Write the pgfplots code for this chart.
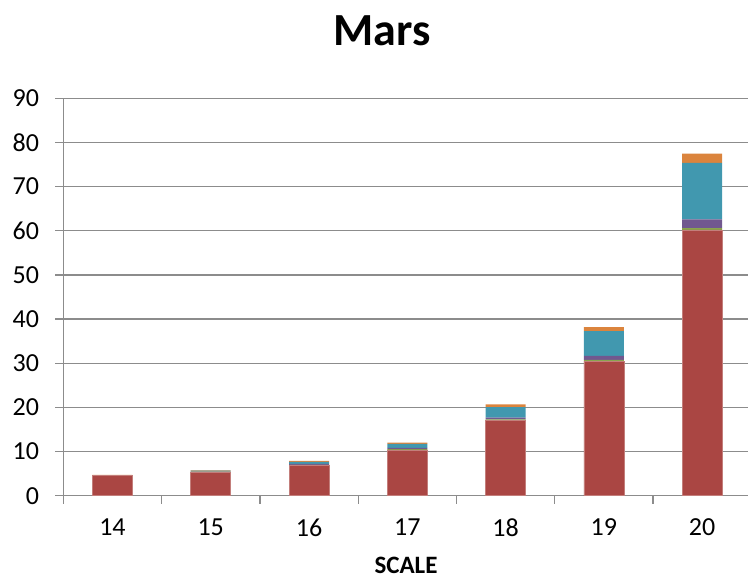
\documentclass[border=0pt]{standalone}
\usepackage{fontspec}
\setmainfont{Carlito}
\usepackage{pgfplots}
\pgfplotsset{compat=1.18}

\definecolor{sRed}{HTML}{AA4643}
\definecolor{sGreen}{HTML}{89A54E}
\definecolor{sPurple}{HTML}{71588F}
\definecolor{sBlue}{HTML}{4198AF}
\definecolor{sOrange}{HTML}{DB843D}
\definecolor{axisgray}{HTML}{8C8C8C}

\begin{document}
\begin{tikzpicture}[x=1pt,y=1pt]
\useasboundingbox (0,0) rectangle (748,579);
\begin{axis}[
  at={(63.3pt,83.2pt)}, anchor=south west,
  scale only axis, width=688pt, height=397.5pt,
  ybar stacked, bar width=40pt,
  xmin=-0.5, xmax=6.5, ymin=0, ymax=90,
  xtick={0,...,6}, xticklabels={14,15,16,17,18,19,20},
  minor xtick={-0.5,0.5,...,6.5},
  ytick={0,10,...,90},
  axis x line*=bottom, axis y line*=left,
  axis line style={color=axisgray, line width=1.3pt},
  ymajorgrids, grid style={color=axisgray, line width=1.3pt},
  tick align=outside,
  major tick length=8pt, minor tick length=8pt,
  x tick style={draw=none},
  minor x tick style={draw=axisgray, line width=1.3pt},
  y tick style={color=axisgray, line width=1.3pt},
  /pgf/number format/assume math mode=true,
  ticklabel style={font=\fontsize{26}{30}\selectfont, inner sep=0pt},
  yticklabel style={anchor=east, xshift=-16pt},
  xticklabel style={anchor=north, yshift=-15pt},
  every axis plot/.append style={line width=0.6pt},
]
\addplot[fill=sRed, draw=sRed!70!white] coordinates {(0,4.6) (1,5.4) (2,6.9) (3,10.4) (4,17.0) (5,30.5) (6,60.2)};
\addplot[fill=sGreen, draw=none] coordinates {(0,0.02) (1,0.05) (2,0.1) (3,0.15) (4,0.3) (5,0.3) (6,0.4)};
\addplot[fill=sPurple, draw=none] coordinates {(0,0.03) (1,0.1) (2,0.2) (3,0.3) (4,0.4) (5,0.9) (6,2.0)};
\addplot[fill=sBlue, draw=none] coordinates {(0,0.03) (1,0.15) (2,0.5) (3,0.9) (4,2.4) (5,5.6) (6,12.8)};
\addplot[fill=sOrange, draw=none] coordinates {(0,0.03) (1,0.1) (2,0.2) (3,0.3) (4,0.6) (5,0.9) (6,2.1)};
\end{axis}
\node[anchor=base, inner sep=0pt, font=\fontsize{46}{50}\selectfont\bfseries] at (382,533.5) {Mars};
\node[anchor=base, inner sep=0pt, font=\fontsize{25}{28}\selectfont\bfseries] at (406,5) {SCALE};
\end{tikzpicture}
\end{document}
